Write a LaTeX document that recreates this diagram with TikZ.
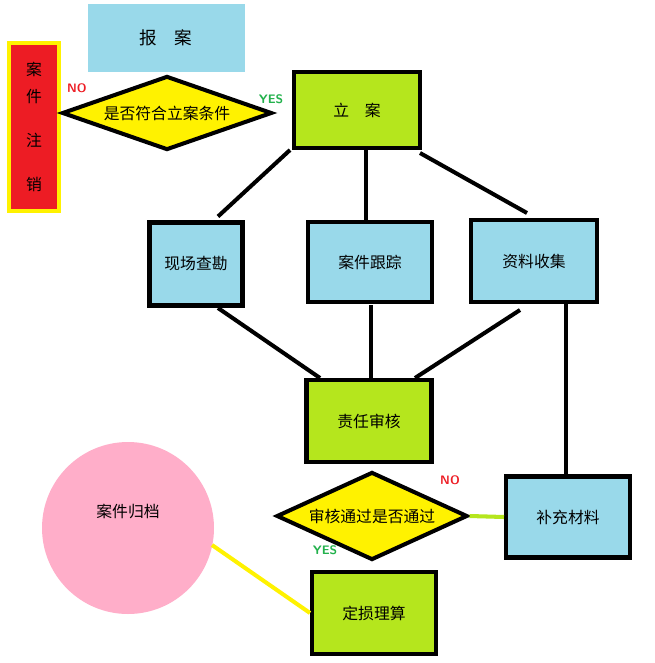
\documentclass[tikz,border=0pt]{standalone}
\usepackage{fontspec}
\newfontfamily\cjk{Noto Sans CJK SC}
\usetikzlibrary{shapes.geometric}
\definecolor{lblue}{HTML}{99D9EA}
\definecolor{lgreen}{HTML}{B5E61D}
\definecolor{ylw}{HTML}{FFF200}
\definecolor{rd}{HTML}{ED1C24}
\definecolor{pnk}{HTML}{FFAEC9}
\definecolor{yesg}{HTML}{22B14C}
\tikzset{x=0.02cm,y=-0.02cm,
 ln/.style={line width=2.3pt},
 bbox/.style={draw=black,line width=2.3pt,font=\cjk\small},
 blue/.style={bbox,fill=lblue},
 green/.style={bbox,fill=lgreen},
 dia/.style={diamond,aspect=2.7,draw=black,line width=2.3pt,fill=ylw,font=\cjk\small,inner sep=0pt},
 lab/.style={font=\sffamily\bfseries\scriptsize}}
\begin{document}
\begin{tikzpicture}
\useasboundingbox (0,0) rectangle (654,663);
\node[fill=lblue,minimum width=157*0.02cm,minimum height=68*0.02cm,font=\cjk] (bao) at (166,38) {报\quad 案};
\node[fill=rd,draw=ylw,line width=2.3pt,minimum width=50*0.02cm,minimum height=168*0.02cm,font=\cjk\small,align=center] (zx) at (34,127) {案\\[4pt]件\\[14pt]注\\[14pt]销};
\node[dia,minimum width=210*0.02cm,minimum height=74*0.02cm] (d1) at (167,113) {是否符合立案条件};
\node[lab,text=rd] at (77,88) {NO};
\node[lab,text=yesg] at (271,99) {YES};
\node[green,minimum width=126*0.02cm,minimum height=76*0.02cm] (la) at (357,110) {立\quad 案};
\node[blue,minimum width=93*0.02cm,minimum height=83*0.02cm] (xc) at (196,264) {现场查勘};
\node[blue,minimum width=124*0.02cm,minimum height=80*0.02cm] (gz) at (370,262) {案件跟踪};
\node[blue,minimum width=126*0.02cm,minimum height=82*0.02cm] (zl) at (534,261) {资料收集};
\node[green,minimum width=125*0.02cm,minimum height=82*0.02cm] (zr) at (369,421) {责任审核};
\node[blue,minimum width=124*0.02cm,minimum height=81*0.02cm] (bc) at (568,517) {补充材料};
\node[dia,minimum width=191*0.02cm,minimum height=88*0.02cm] (d2) at (372,516) {审核通过是否通过};
\node[lab,text=rd] at (450,480) {NO};
\node[lab,text=yesg] at (325,550) {YES};
\node[green,minimum width=124*0.02cm,minimum height=82*0.02cm] (ds) at (374,613) {定损理算};
\node[circle,fill=pnk,minimum size=172*0.02cm,font=\cjk\small] (gd) at (128,528) {};
\node[font=\cjk\small] at (128,511) {案件归档};
\coordinate (a1) at (218,218); \coordinate (a2) at (290,150);
\draw[ln] (xc.north) ++(22,-4) -- (a2);
\draw[ln] (366,150) -- (gz.north -| 366,0);
\draw[ln] (420,153) -- (527,213);
\draw[ln] (218,308) -- (320,378);
\draw[ln] (371,305) -- (371,378);
\draw[ln] (520,310) -- (415,378);
\draw[ln] (566,303) -- (bc.north -| 566,0);
\draw[ln,draw=lgreen] (d2.east) -- (bc.west);
\draw[ln,draw=ylw] (212,545) -- (ds.west);
\end{tikzpicture}
\end{document}
